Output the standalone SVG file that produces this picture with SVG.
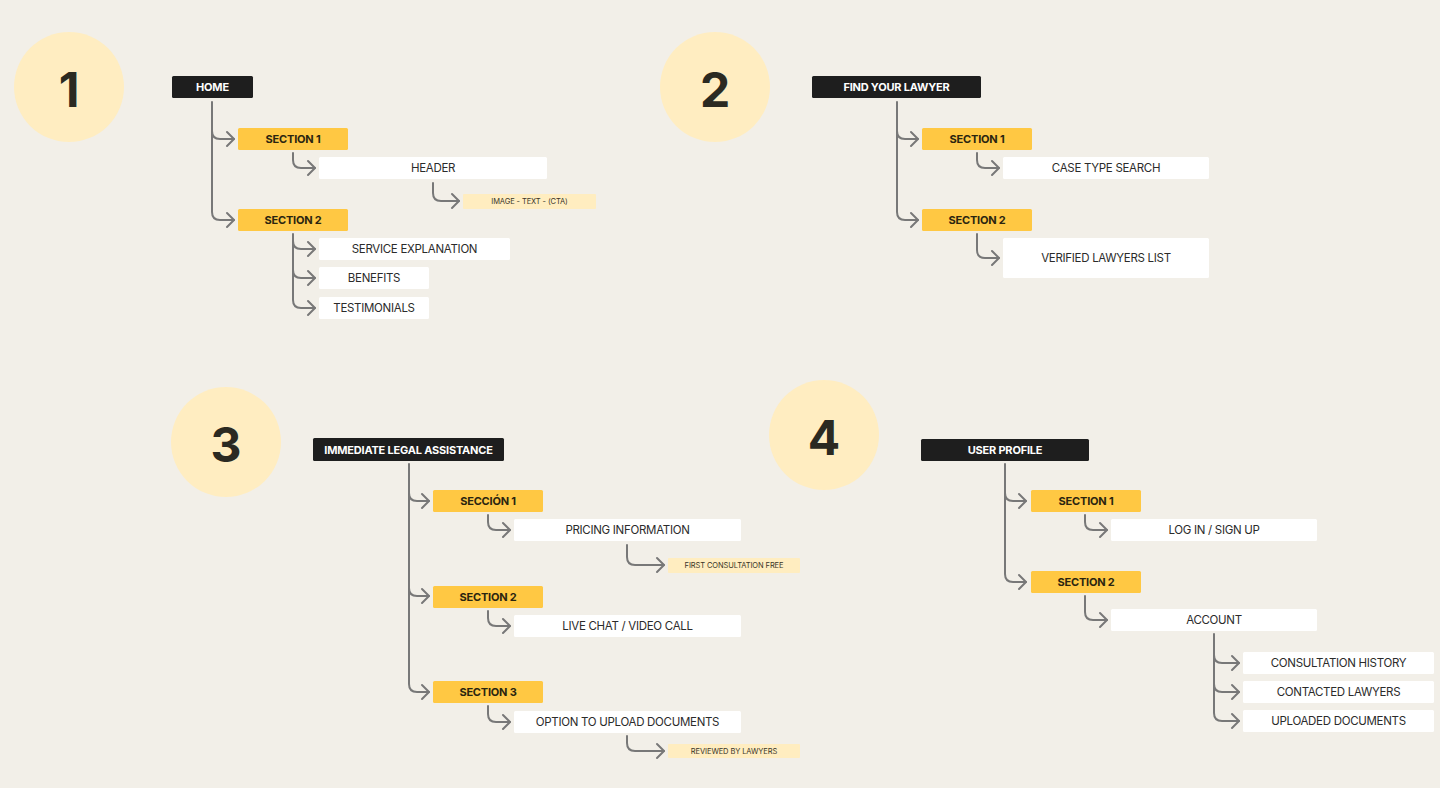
<svg xmlns="http://www.w3.org/2000/svg" width="1440" height="788" viewBox="0 0 1440 788">
<defs>
<marker id="ah" markerUnits="userSpaceOnUse" markerWidth="20" markerHeight="20" viewBox="-10 -10 20 20" refX="0" refY="0" orient="auto">
<path d="M-7,-7 L0,0 L-7,7" fill="none" stroke="#787878" stroke-width="2" stroke-linecap="round" stroke-linejoin="round"/>
</marker>
</defs>
<style>
text{font-family:"Inter","Liberation Sans",sans-serif;text-anchor:middle;dominant-baseline:central}
.circ{fill:#ffedc1}
.num{font-size:48px;font-weight:700;fill:#2b2a22}
.root rect{fill:#1e1e1e}
.root text{fill:#ffffff;font-size:11px;font-weight:700;letter-spacing:-0.2px}
.sec rect{fill:#ffc843}
.sec text{fill:#2a2510;font-size:11px;font-weight:700;letter-spacing:-0.2px}
.box rect{fill:#ffffff}
.box text{fill:#2b2b2b;font-size:11.5px;letter-spacing:-0.3px}
.tag rect{fill:#ffedc0}
.tag text{fill:#3a3528;font-size:7.5px;letter-spacing:-0.1px}
.conn path{fill:none;stroke:#787878;stroke-width:2;stroke-linecap:round}
.conn path.a{marker-end:url(#ah)}
</style>
<rect width="1440" height="788" fill="#f2efe8"/>

<!-- Numbers -->
<g id="num1"><circle class="circ" cx="69" cy="87" r="55"/><text class="num" x="69" y="89">1</text></g>
<g id="num2"><circle class="circ" cx="715" cy="87" r="55"/><text class="num" x="715" y="89">2</text></g>
<g id="num3"><circle class="circ" cx="226" cy="442" r="55"/><text class="num" x="226" y="444">3</text></g>
<g id="num4"><circle class="circ" cx="824" cy="435" r="55"/><text class="num" x="824" y="437">4</text></g>

<!-- Connectors -->
<g id="connectors" class="conn">
<!-- Q1 -->
<path class="a" d="M212,102 V212 Q212,220 220,220 H234"/>
<path class="a" d="M212,131 Q212,139 220,139 H234"/>
<path class="a" d="M293,153 V160 Q293,168 301,168 H315"/>
<path class="a" d="M433,183 V193 Q433,201 441,201 H459"/>
<path class="a" d="M293,234 V300 Q293,308 301,308 H315"/>
<path class="a" d="M293,241 Q293,249 301,249 H315"/>
<path class="a" d="M293,270 Q293,278 301,278 H315"/>
<!-- Q2 -->
<path class="a" d="M897,102 V212 Q897,220 905,220 H918"/>
<path class="a" d="M897,131 Q897,139 905,139 H918"/>
<path class="a" d="M977,153 V160 Q977,168 985,168 H999"/>
<path class="a" d="M977,234 V250 Q977,258 985,258 H999"/>
<!-- Q3 -->
<path class="a" d="M409,464 V684 Q409,692 417,692 H429"/>
<path class="a" d="M409,493 Q409,501 417,501 H429"/>
<path class="a" d="M409,588 Q409,596 417,596 H429"/>
<path class="a" d="M488,515 V522 Q488,530 496,530 H510"/>
<path class="a" d="M488,611 V618 Q488,626 496,626 H510"/>
<path class="a" d="M488,706 V714 Q488,722 496,722 H510"/>
<path class="a" d="M627,545 V557 Q627,565 635,565 H664"/>
<path class="a" d="M627,736 V743 Q627,751 635,751 H664"/>
<!-- Q4 -->
<path class="a" d="M1005,464 V574 Q1005,582 1013,582 H1026"/>
<path class="a" d="M1005,493 Q1005,501 1013,501 H1026"/>
<path class="a" d="M1085,515 V522 Q1085,530 1093,530 H1107"/>
<path class="a" d="M1085,596 V612 Q1085,620 1093,620 H1107"/>
<path class="a" d="M1214,634 V713 Q1214,721 1222,721 H1239"/>
<path class="a" d="M1214,655 Q1214,663 1222,663 H1239"/>
<path class="a" d="M1214,684 Q1214,692 1222,692 H1239"/>
</g>

<!-- Q1 nodes -->
<g id="home" class="root"><rect x="172" y="76" width="81" height="22" rx="1.5"/><text x="212.5" y="87">HOME</text></g>
<g id="q1-sec1" class="sec"><rect x="238" y="128" width="110" height="22" rx="1.5"/><text x="293" y="139">SECTION 1</text></g>
<g id="q1-header" class="box"><rect x="319" y="157" width="228" height="22" rx="1.5"/><text x="433" y="168">HEADER</text></g>
<g id="q1-cta" class="tag"><rect x="463" y="194" width="133" height="15" rx="1"/><text x="529.5" y="201.5">IMAGE - TEXT - (CTA)</text></g>
<g id="q1-sec2" class="sec"><rect x="238" y="209" width="110" height="22" rx="1.5"/><text x="293" y="220">SECTION 2</text></g>
<g id="q1-service" class="box"><rect x="319" y="238" width="191" height="22" rx="1.5"/><text x="414.5" y="249">SERVICE EXPLANATION</text></g>
<g id="q1-benefits" class="box"><rect x="319" y="267" width="110" height="22" rx="1.5"/><text x="374" y="278">BENEFITS</text></g>
<g id="q1-testimonials" class="box"><rect x="319" y="297" width="110" height="22" rx="1.5"/><text x="374" y="308">TESTIMONIALS</text></g>

<!-- Q2 nodes -->
<g id="find" class="root"><rect x="812" y="76" width="169" height="22" rx="1.5"/><text x="896.5" y="87">FIND YOUR LAWYER</text></g>
<g id="q2-sec1" class="sec"><rect x="922" y="128" width="110" height="22" rx="1.5"/><text x="977" y="139">SECTION 1</text></g>
<g id="q2-case" class="box"><rect x="1003" y="157" width="206" height="22" rx="1.5"/><text x="1106" y="168">CASE TYPE SEARCH</text></g>
<g id="q2-sec2" class="sec"><rect x="922" y="209" width="110" height="22" rx="1.5"/><text x="977" y="220">SECTION 2</text></g>
<g id="q2-verified" class="box"><rect x="1003" y="238" width="206" height="40" rx="1.5"/><text x="1106" y="258">VERIFIED LAWYERS LIST</text></g>

<!-- Q3 nodes -->
<g id="immediate" class="root"><rect x="313" y="438" width="191" height="23" rx="1.5"/><text x="408.5" y="449.5">IMMEDIATE LEGAL ASSISTANCE</text></g>
<g id="q3-sec1" class="sec"><rect x="433" y="490" width="110" height="22" rx="1.5"/><text x="488" y="501">SECCIÓN 1</text></g>
<g id="q3-pricing" class="box"><rect x="514" y="519" width="227" height="22" rx="1.5"/><text x="627.5" y="530">PRICING INFORMATION</text></g>
<g id="q3-free" class="tag"><rect x="668" y="558" width="132" height="15" rx="1"/><text x="734" y="565.5">FIRST CONSULTATION FREE</text></g>
<g id="q3-sec2" class="sec"><rect x="433" y="586" width="110" height="22" rx="1.5"/><text x="488" y="597">SECTION 2</text></g>
<g id="q3-chat" class="box"><rect x="514" y="615" width="227" height="22" rx="1.5"/><text x="627.5" y="626">LIVE CHAT / VIDEO CALL</text></g>
<g id="q3-sec3" class="sec"><rect x="433" y="681" width="110" height="22" rx="1.5"/><text x="488" y="692">SECTION 3</text></g>
<g id="q3-upload" class="box"><rect x="514" y="711" width="227" height="22" rx="1.5"/><text x="627.5" y="722">OPTION TO UPLOAD DOCUMENTS</text></g>
<g id="q3-reviewed" class="tag"><rect x="668" y="744" width="132" height="14" rx="1"/><text x="734" y="751">REVIEWED BY LAWYERS</text></g>

<!-- Q4 nodes -->
<g id="profile" class="root"><rect x="921" y="439" width="168" height="22" rx="1.5"/><text x="1005" y="450">USER PROFILE</text></g>
<g id="q4-sec1" class="sec"><rect x="1031" y="490" width="110" height="22" rx="1.5"/><text x="1086" y="501">SECTION 1</text></g>
<g id="q4-login" class="box"><rect x="1111" y="519" width="206" height="22" rx="1.5"/><text x="1214" y="530">LOG IN / SIGN UP</text></g>
<g id="q4-sec2" class="sec"><rect x="1031" y="571" width="110" height="22" rx="1.5"/><text x="1086" y="582">SECTION 2</text></g>
<g id="q4-account" class="box"><rect x="1111" y="609" width="206" height="22" rx="1.5"/><text x="1214" y="620">ACCOUNT</text></g>
<g id="q4-history" class="box"><rect x="1243" y="652" width="191" height="22" rx="1.5"/><text x="1338.5" y="663">CONSULTATION HISTORY</text></g>
<g id="q4-contacted" class="box"><rect x="1243" y="681" width="191" height="22" rx="1.5"/><text x="1338.5" y="692">CONTACTED LAWYERS</text></g>
<g id="q4-uploaded" class="box"><rect x="1243" y="710" width="191" height="22" rx="1.5"/><text x="1338.5" y="721">UPLOADED DOCUMENTS</text></g>
</svg>
